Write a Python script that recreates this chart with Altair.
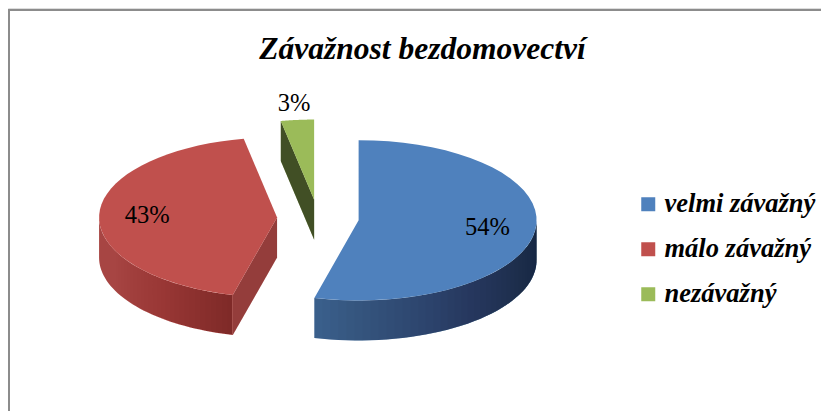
import altair as alt
import pandas as pd

# ---- data ----
categories = ["velmi závažný", "málo závažný", "nezávažný"]
values = [54, 43, 3]
title_text = "Závažnost bezdomovectví"

# ---- style / layout ----
top_colors = ["#4F81BD", "#C0504D", "#9BBB59"]
SERIF = "Liberation Serif, Times New Roman, serif"
W, HT = 813, 403          # view size (px)
CX, CY, R = 310, 210, 178  # pie centre / radius in px
T = 0.45                   # tilt (vertical squash)
DEPTH = 0.225              # thickness in radius units
EXPLODE = 0.23
N = 40                     # arc resolution
A_, B_, PHI = 0.639, 0.234, 4.538   # wall lighting model


def F(a):
    return f"({A_} + {B_}*cos({a} - {PHI}))"


df = pd.DataFrame({"kat": categories, "hodnota": values,
                   "poradi": list(range(len(categories)))})

xdom = [-CX / R, (W - CX) / R]
ydom = [-(HT - CY) / R, CY / R]
X = alt.X("px:Q", scale=alt.Scale(domain=xdom, nice=False, zero=False), axis=None)
Y = alt.Y("py:Q", scale=alt.Scale(domain=ydom, nice=False, zero=False), axis=None)
cscale = alt.Scale(domain=categories, range=top_colors)
legend = alt.Legend(orient="none", legendX=627, legendY=183,
                    title=None, symbolType="square", symbolSize=196,
                    symbolStrokeWidth=0, labelFont=SERIF,
                    labelFontSize=26.5, labelFontStyle="italic",
                    labelFontWeight="bold", labelColor="black",
                    labelOffset=3, rowPadding=18, padding=0,
                    labelLimit=300)
COLOR = alt.Color("kat:N", scale=cscale, legend=legend)


def base():
    return (alt.Chart(df)
            .transform_joinaggregate(total="sum(hodnota)")
            .transform_window(cum="sum(hodnota)", sort=[alt.SortField("poradi")], frame=[None, 0])
            .transform_calculate(a0="2*PI*(datum.cum-datum.hodnota)/datum.total")
            .transform_calculate(a1="2*PI*datum.cum/datum.total")
            .transform_calculate(mid="(datum.a0+datum.a1)/2")
            .transform_calculate(cx=f"{EXPLODE}*sin(datum.mid)")
            .transform_calculate(cy=f"{EXPLODE}*{T}*cos(datum.mid)"))


# radial (cut) walls
def rad_data():
    return (base()
            .transform_calculate(k="sequence(0, 8)")
            .transform_flatten(["k"])
            .transform_calculate(e="floor(datum.k/4)")
            .transform_calculate(j="datum.k % 4")
            .transform_calculate(ang="datum.e==0 ? datum.a0 : datum.a1")
            .transform_filter("datum.e==0 ? sin(datum.ang) < -0.001 : sin(datum.ang) > 0.001")
            .transform_calculate(rim="(datum.j==1 || datum.j==2) ? 1 : 0")
            .transform_calculate(px="datum.cx + datum.rim*sin(datum.ang)")
            .transform_calculate(py=f"datum.cy + datum.rim*{T}*cos(datum.ang) - (datum.j>=2 ? {DEPTH} : 0)")
            .transform_calculate(grp="datum.kat + '-' + datum.e")
            .transform_calculate(tma="0.4 + 0.18*cos(datum.ang)"))


rad = rad_data().mark_line(filled=True).encode(
    x=X, y=Y, order=alt.Order("j:Q"), detail="grp:N", color=COLOR)
rad_shade = rad_data().mark_line(filled=True, color="black").encode(
    x=X, y=Y, order=alt.Order("j:Q"), detail="grp:N",
    opacity=alt.Opacity("tma:Q", scale=None))


def wall_base():
    return (base()
            .transform_calculate(lo="max(datum.a0, PI/2)")
            .transform_calculate(hi="min(datum.a1, 3*PI/2)")
            .transform_filter("datum.hi > datum.lo"))


wall = (wall_base()
        .transform_calculate(k=f"sequence(0, {2 * N + 2})")
        .transform_flatten(["k"])
        .transform_calculate(i=f"datum.k <= {N} ? datum.k : {2 * N + 1} - datum.k")
        .transform_calculate(ang=f"datum.lo + (datum.hi-datum.lo)*datum.i/{N}")
        .transform_calculate(px="datum.cx + sin(datum.ang)")
        .transform_calculate(py=f"datum.cy + {T}*cos(datum.ang) - (datum.k <= {N} ? 0 : {DEPTH})")
        .mark_line(filled=True)
        .encode(x=X, y=Y, order=alt.Order("k:Q"), color=COLOR))

wall_shade = (wall_base()
              .transform_calculate(s=f"sequence(0, {N})")
              .transform_flatten(["s"])
              .transform_calculate(m=f"{N} - datum.s")
              .transform_calculate(k="sequence(0, 2*datum.m + 2)")
              .transform_flatten(["k"])
              .transform_calculate(i="datum.k <= datum.m ? datum.k : 2*datum.m + 1 - datum.k")
              .transform_calculate(ang=f"datum.lo + (datum.hi-datum.lo)*datum.i/{N}")
              .transform_calculate(px="datum.cx + sin(datum.ang)")
              .transform_calculate(py=f"datum.cy + {T}*cos(datum.ang) - (datum.k <= datum.m ? 0 : {DEPTH})")
              .transform_calculate(thA=f"datum.lo + (datum.hi-datum.lo)*datum.m/{N}")
              .transform_calculate(thB=f"datum.lo + (datum.hi-datum.lo)*(datum.m+1)/{N}")
              .transform_calculate(alpha=f"datum.s == 0 ? 1 - {F('datum.thA')} : max(0, 1 - {F('datum.thA')}/{F('datum.thB')})")
              .transform_calculate(grp="datum.kat + '-' + datum.s")
              .mark_line(filled=True, color="black")
              .encode(x=X, y=Y, order=alt.Order("k:Q"), detail="grp:N",
                      opacity=alt.Opacity("alpha:Q", scale=None)))

top = (base()
       .transform_calculate(k=f"sequence(0, {N + 2})")
       .transform_flatten(["k"])
       .transform_calculate(ang=f"datum.a0 + (datum.a1-datum.a0)*(datum.k-1)/{N}")
       .transform_calculate(px="datum.k==0 ? datum.cx : datum.cx + sin(datum.ang)")
       .transform_calculate(py=f"datum.k==0 ? datum.cy : datum.cy + {T}*cos(datum.ang)")
       .mark_line(filled=True)
       .encode(x=X, y=Y, order=alt.Order("k:Q"), color=COLOR))

labels = (base()
          .transform_calculate(share="datum.hodnota/datum.total")
          .transform_calculate(rl="datum.share < 0.1 ? 1.2 : 0.73")
          .transform_calculate(px="datum.cx + datum.rl*sin(datum.mid)")
          .transform_calculate(py=f"datum.cy + datum.rl*{T}*cos(datum.mid)")
          .transform_calculate(txt="format(datum.share, '.0%')")
          .mark_text(font=SERIF, fontSize=24.5, color="black")
          .encode(x=X, y=Y, text="txt:N"))

frame_left = alt.Chart(df).mark_rule(color="#8C8C8C", strokeWidth=2).encode(
    x=alt.value(1), y=alt.value(2), y2=alt.value(HT))
frame_top = alt.Chart(df).mark_rule(color="#8C8C8C", strokeWidth=2).encode(
    y=alt.value(2), x=alt.value(0), x2=alt.value(W))

chart = (alt.layer(frame_left, frame_top, rad, rad_shade, wall, wall_shade, top, labels)
         .properties(width=W, height=HT, padding=0,
                     autosize=alt.AutoSizeParams(type="none"),
                     title=alt.TitleParams(title_text, anchor="middle", font=SERIF,
                                           fontSize=31.5, fontStyle="italic", fontWeight="bold",
                                           color="black", offset=0, baseline="alphabetic",
                                           dy=82, dx=8))
         .configure_view(stroke=None)
         .configure(background="white"))

chart.save("out.html", embed_options={"renderer": "svg", "actions": False})
